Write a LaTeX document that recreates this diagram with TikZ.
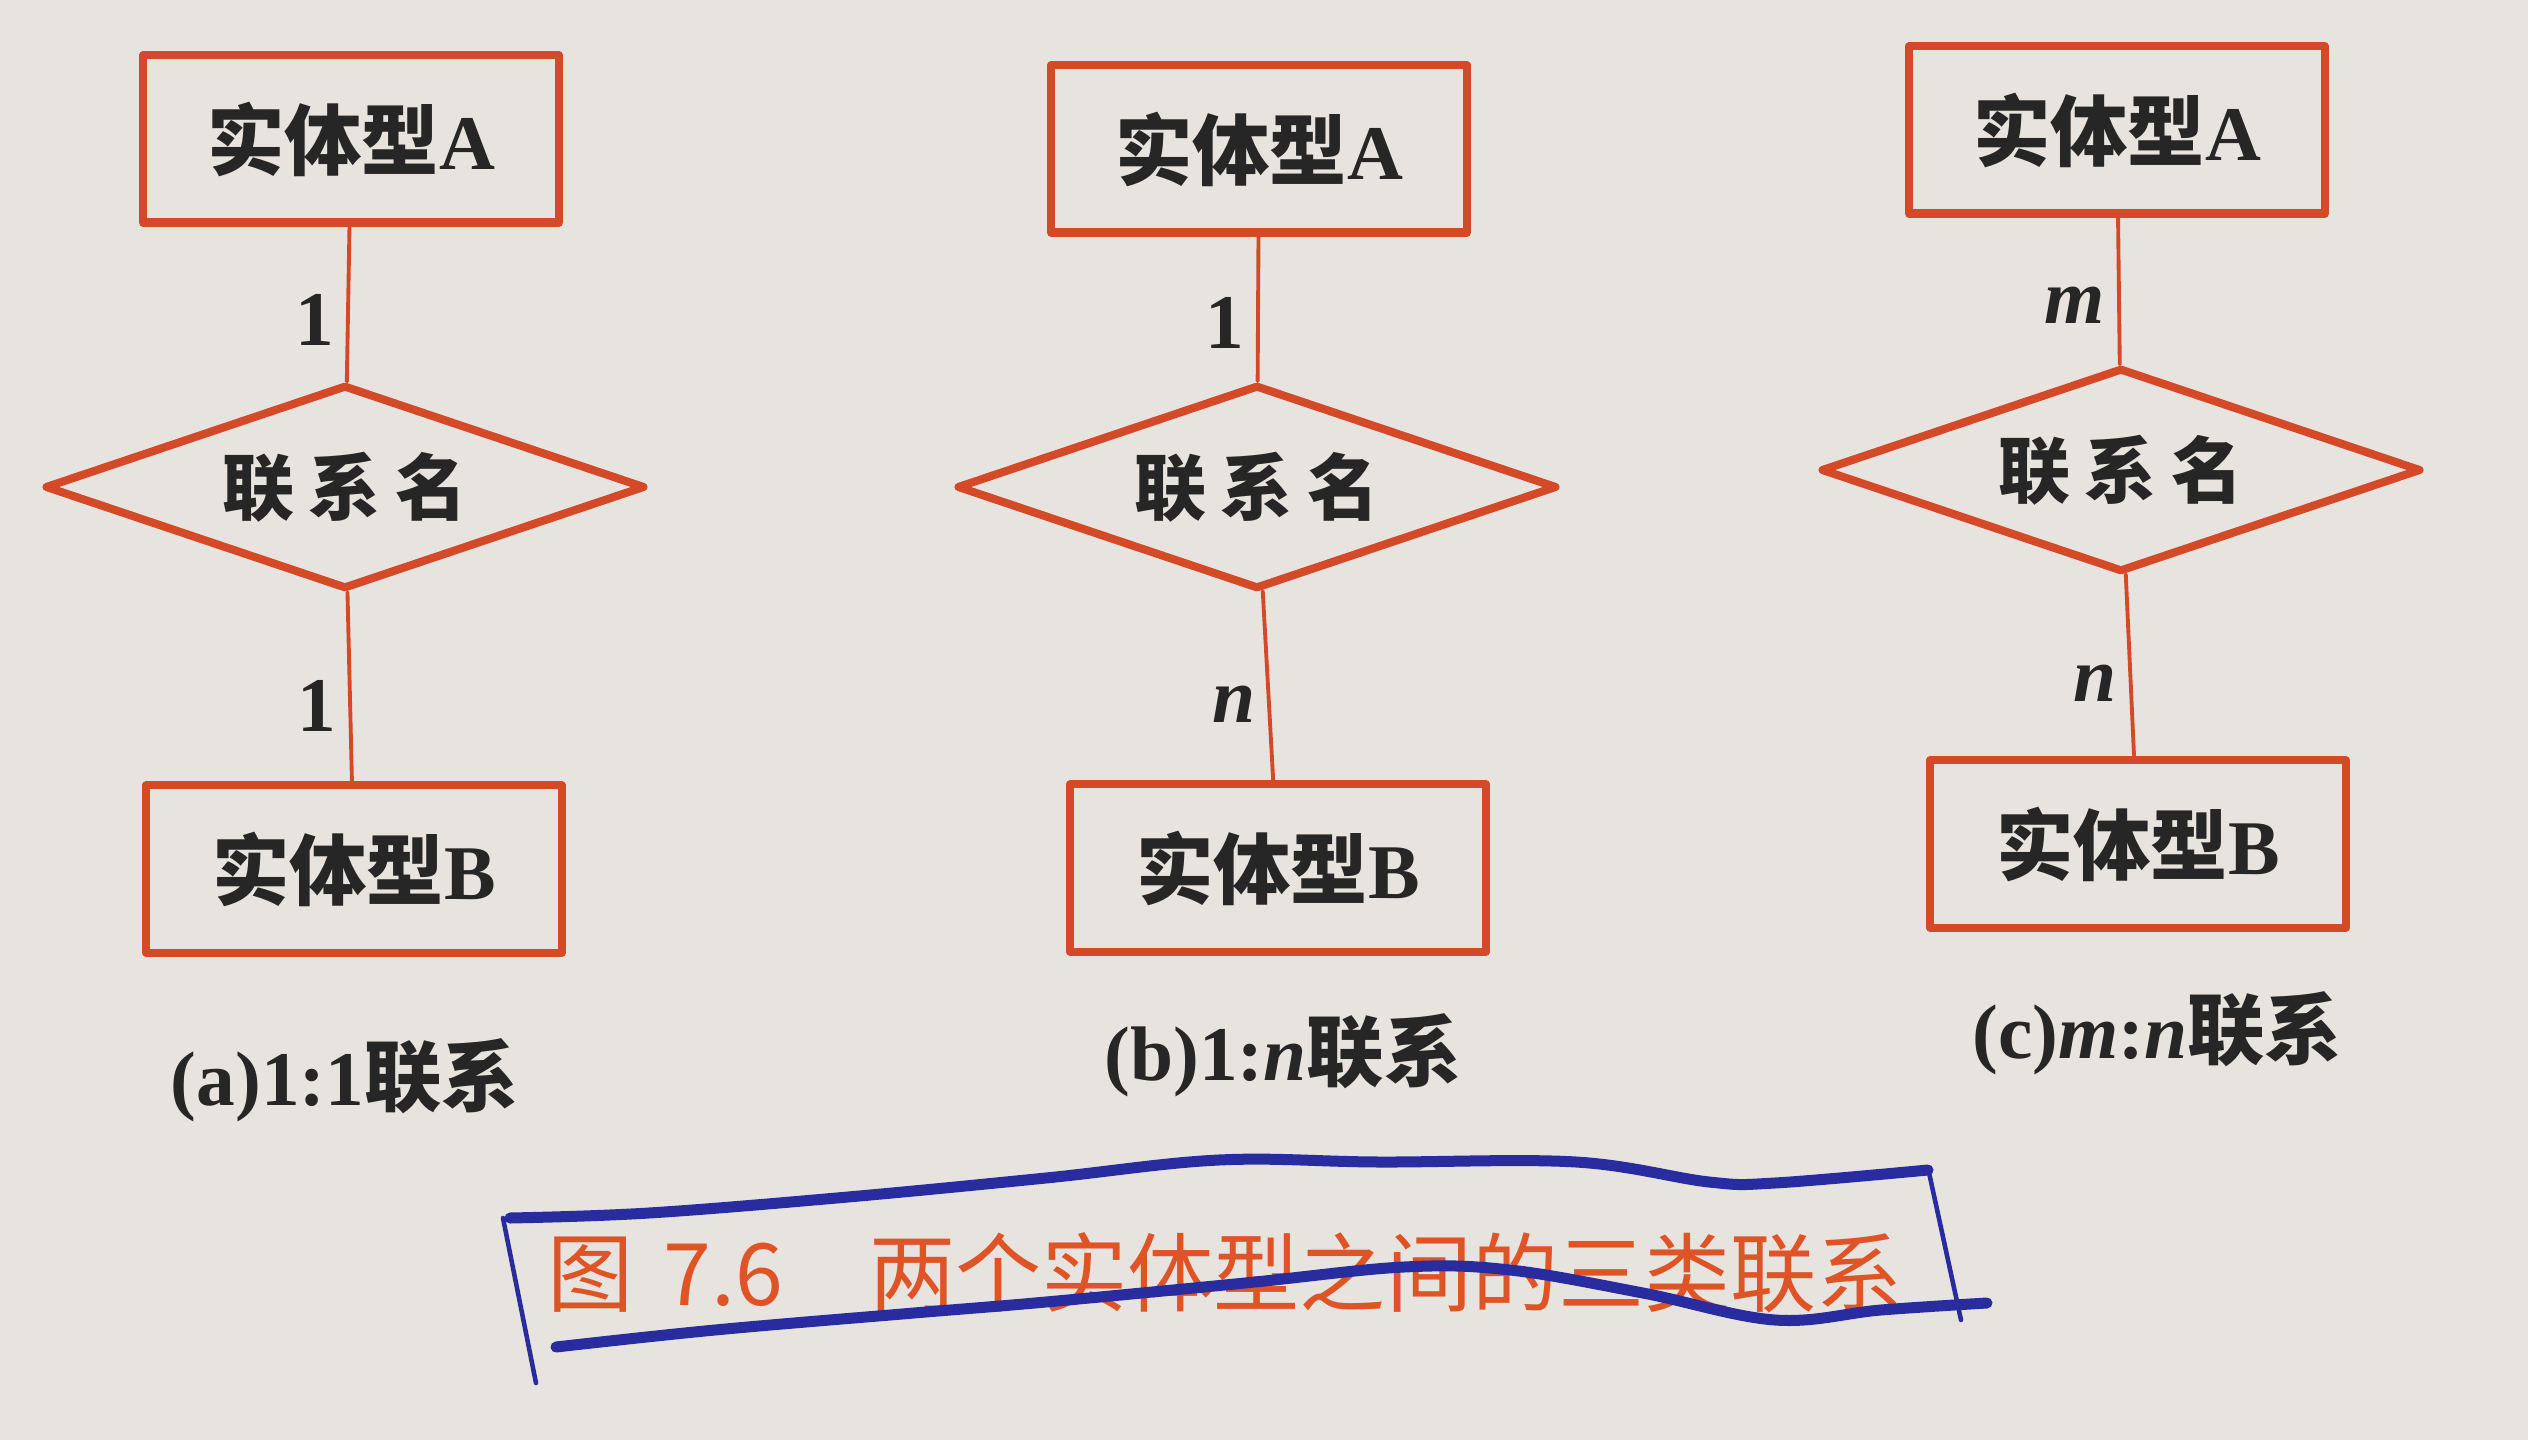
\documentclass[tikz,border=0pt]{standalone}
\usepackage{fontspec}
\setmainfont{Liberation Serif}
\newfontfamily\cjk{Noto Sans CJK SC}
\newfontfamily\wmfont{Liberation Sans}
\usetikzlibrary{shapes.geometric}
\definecolor{paper}{RGB}{231,228,224}
\definecolor{erred}{RGB}{212,74,40}
\definecolor{figred}{RGB}{222,84,38}
\definecolor{pen}{RGB}{40,44,158}
\newcommand{\zh}[1]{{\cjk\bfseries #1}}
\newcommand{\erfont}{\fontsize{22}{26}\selectfont}
\tikzset{
	entity/.style={draw=erred, line width=2.3pt, minimum width=4.16cm, minimum height=1.67cm, font=\erfont\bfseries, text=black!85},
	relation/.style={diamond, aspect=2.9, draw=erred, line width=2.3pt, minimum width=6cm, minimum height=2.04cm, inner sep=0pt, font=\fontsize{20.5}{24}\selectfont, text=black!85},
	link/.style={draw=erred, line width=1.1pt},
	card/.style={left=0.12cm, pos=.6, inner sep=0pt, font=\erfont\bfseries, text=black!85},
	subcap/.style={font=\erfont\bfseries, text=black!85},
	penline/.style={pen, line width=0.11cm, line cap=round}
}
\begin{document}
\begin{tikzpicture}[x=0.01cm, y=-0.01cm, line join=round, line cap=round]
	\fill[paper] (0,0) rectangle (2528,1440);
	% the three kinds: A box / diamond / B box / labels / caption
	\foreach \dg/\xa/\ya/\xr/\yr/\xb/\yb/\ua/\ub/\xc/\yc/\cp in {a/351/139/345/487/354/869/1/1/345/1080/{(a)1:1},
		b/1259/149/1257/487/1278/868/1/\textit{n}/1283/1055/{(b)1:\textit{n}},
		c/2117/130/2121/470/2138/844/\textit{m}/\textit{n}/2157/1033/{(c)\textit{m}:\textit{n}}}{
		\node[entity] (A\dg) at (\xa,\ya) {\zh{实体型}A};
		\node[relation] (R\dg) at (\xr,\yr) {\zh{联\hspace{.2em}系\hspace{.2em}名}};
		\node[entity] (B\dg) at (\xb,\yb) {\zh{实体型}B};
		\draw[link] (A\dg) -- node[card]{\ua} (R\dg) (R\dg) -- node[card]{\ub} (B\dg);
		\node[subcap] (cap\dg) at (\xc,\yc) {\cp\zh{联系}};
	}
	\node[font=\cjk\fontsize{24.5}{28}\selectfont, text=figred] (fig) at (1225,1273) {图\hspace{.35em}7.6\hspace{1em}两个实体型之间的三类联系};
	% pen marks round the caption
	\draw[penline] plot[smooth, tension=.6] coordinates {(510,1218) (649,1213) (848,1197) (1046,1178) (1219,1160) (1378,1162) (1576,1162) (1709,1182) (1775,1183) (1928,1170)};
	\draw[penline] plot[smooth, tension=.6] coordinates {(556,1347) (715,1330) (914,1313) (1046,1302) (1245,1283) (1404,1267) (1510,1270) (1643,1293) (1775,1320) (1881,1310) (1987,1303)};
	\draw[pen, line width=1.3pt] (503,1218) -- (536,1383) (1928,1168) -- (1961,1320);
	\node[font=\wmfont\fontsize{4.3}{5}\selectfont, text=white!80!gray, anchor=east, inner sep=0pt] (wm) at (2517,1423) {https://blog.csdn.net/weixin\_41429999};
\end{tikzpicture}
\end{document}
